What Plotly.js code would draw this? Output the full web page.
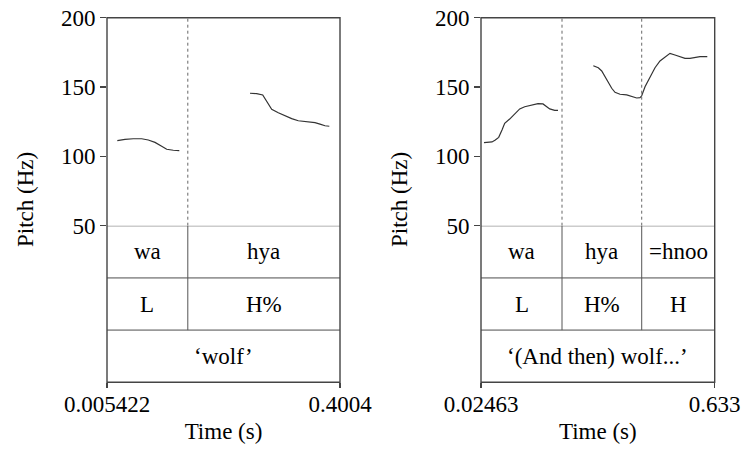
<!DOCTYPE html>
<html><head><meta charset="utf-8">
<script src="https://cdn.plot.ly/plotly-3.0.1.min.js"></script>
<style>html,body{margin:0;padding:0;background:#fff}#chart{width:744px;height:449px}</style>
</head><body><div id="chart"></div>
<script>
// ---- Left panel: 'wolf' ----
const leftTimeRange = [0.005422, 0.4004];
const leftSeg1Time  = [0.0229,0.0359,0.0500,0.0642,0.0754,0.0868,0.0981,0.1066,0.1178,0.1280];
const leftSeg1Pitch = [111.3,112.3,112.7,112.7,111.8,110.1,107.3,105.1,104.4,104.1];
const leftSeg2Time  = [0.2478,0.2592,0.2694,0.2772,0.2846,0.2958,0.3072,0.3185,0.3297,0.3440,0.3580,0.3665,0.3750,0.3823];
const leftSeg2Pitch = [145.5,145.2,144.3,139.0,133.9,131.5,129.1,127.2,125.7,125.0,124.3,123.3,122.1,121.7];
const leftBounds = [0.1424];
const leftSyll   = ['wa','hya'];
const leftTones  = ['L','H%'];
const leftGloss  = '\u2018wolf\u2019';

// ---- Right panel: '(And then) wolf...' ----
const rightTimeRange = [0.02463, 0.633];
const rightSeg1Time  = [0.0324,0.0429,0.0533,0.0619,0.0707,0.0793,0.0863,0.0993,0.1124,0.1254,0.1384,0.1556,0.1730,0.1860,0.1946,0.2035,0.2165,0.2251];
const rightSeg1Pitch = [109.9,110.1,110.4,111.8,113.7,119.0,123.8,126.9,130.3,134.2,135.8,137.0,138.0,137.8,136.3,134.2,133.2,133.2];
const rightSeg2Time  = [0.3170,0.3300,0.3389,0.3475,0.3561,0.3649,0.3735,0.3865,0.4039,0.4170,0.4300,0.4386,0.4430,0.4516,0.4646,0.4776,0.4906,0.5036,0.5166,0.5296,0.5427,0.5557,0.5687,0.5817,0.5947,0.6137];
const rightSeg2Pitch = [165.4,163.9,161.6,157.4,152.7,149.1,146.2,144.8,144.3,143.0,142.1,142.3,143.7,150.2,157.4,163.9,168.8,171.9,174.3,173.1,171.9,170.7,170.7,171.2,171.9,171.9];
const rightBounds = [0.2355, 0.4430];
const rightSyll   = ['wa','hya','=hnoo'];
const rightTones  = ['L','H%','H'];
const rightGloss  = '\u2018(And then) wolf...\u2019';

const pitchTicks = [50,100,150,200];

// ---- layout geometry ----
const W = 744, H = 449;
const FONT = '"Liberation Serif", "Times New Roman", serif';
const FS = 23;
const pitchDom = [1 - 225.7/H, 1 - 17.7/H];
const tierDom  = [1 - 382.3/H, 1 - 225.7/H];
const xDoms = [[107/W, 340/W], [481/W, 714.7/W]];

const panels = [
  {xa:'x',  ya:'y',  yt:'y3', range:leftTimeRange, segs:[[leftSeg1Time,leftSeg1Pitch],[leftSeg2Time,leftSeg2Pitch]],
   bounds:leftBounds, syll:leftSyll, tones:leftTones, gloss:leftGloss},
  {xa:'x2', ya:'y2', yt:'y4', range:rightTimeRange, segs:[[rightSeg1Time,rightSeg1Pitch],[rightSeg2Time,rightSeg2Pitch]],
   bounds:rightBounds, syll:rightSyll, tones:rightTones, gloss:rightGloss}
];

const traces = [];
const shapes = [];
const annotations = [];
const layout = {
  width: W, height: H,
  margin: {l:0, r:0, t:0, b:0},
  paper_bgcolor: '#fff', plot_bgcolor: 'rgba(0,0,0,0)',
  showlegend: false,
  font: {family: FONT, size: FS, color: '#000'}
};

panels.forEach((p, i) => {
  p.segs.forEach(s => traces.push({
    x: s[0], y: s[1], xaxis: p.xa, yaxis: p.ya, type: 'scatter', mode: 'lines',
    line: {color: '#333', width: 1.2}, hoverinfo: 'skip'
  }));
  const xk = i === 0 ? 'xaxis' : 'xaxis2';
  const yk = i === 0 ? 'yaxis' : 'yaxis2';
  const tk = i === 0 ? 'yaxis3' : 'yaxis4';
  const fmt = v => String(v);
  layout[xk] = {
    domain: xDoms[i], range: p.range, anchor: p.yt, fixedrange: true,
    tickmode: 'array', tickvals: p.range, ticktext: p.range.map(fmt),
    ticks: 'outside', ticklen: 5, tickwidth: 1.3, tickcolor: '#444',
    ticklabelstandoff: -4,
    showline: false, showgrid: false, zeroline: false, automargin: false,
    tickfont: {family: FONT, size: FS, color: '#000'},
    title: {text: 'Time (s)', font: {family: FONT, size: FS, color: '#000'}, standoff: 6}
  };
  layout[yk] = {
    domain: pitchDom, range: [50, 200], anchor: p.xa, fixedrange: true,
    tickmode: 'array', tickvals: pitchTicks,
    ticks: 'outside', ticklen: 6, tickwidth: 1.3, tickcolor: '#444',
    showline: false, showgrid: false, zeroline: false, automargin: false,
    tickfont: {family: FONT, size: FS, color: '#000'}
  };
  layout[tk] = {domain: tierDom, range: [0, 3], anchor: p.xa, visible: false, fixedrange: true};

  const dref = p.xa + ' domain';
  [3, 2, 1].forEach(yv => shapes.push({type:'line', xref:dref, yref:p.yt, x0:0, x1:1, y0:yv, y1:yv,
    line:{color:'#999', width:1.6}}));
  p.bounds.forEach(b => {
    shapes.push({type:'line', xref:p.xa, yref:p.ya, x0:b, x1:b, y0:50, y1:200,
      line:{color:'#666', width:1, dash:'dot'}});
    shapes.push({type:'line', xref:p.xa, yref:p.yt, x0:b, x1:b, y0:1, y1:3,
      line:{color:'#555', width:1}});
  });
  shapes.push({type:'rect', xref:dref, yref:'paper', x0:0, x1:1, y0:tierDom[0], y1:pitchDom[1],
    line:{color:'#444', width:1.4}, fillcolor:'rgba(0,0,0,0)'});

  const edges = [p.range[0], ...p.bounds, p.range[1]];
  p.syll.forEach((t, k) => annotations.push({xref:p.xa, yref:p.yt, x:(edges[k]+edges[k+1])/2, y:2.5,
    text:t, showarrow:false, font:{family:FONT, size:FS, color:'#000'}}));
  p.tones.forEach((t, k) => annotations.push({xref:p.xa, yref:p.yt, x:(edges[k]+edges[k+1])/2, y:1.5,
    text:t, showarrow:false, font:{family:FONT, size:FS, color:'#000'}}));
  annotations.push({xref:p.xa, yref:p.yt, x:(p.range[0]+p.range[1])/2, y:0.5,
    text:p.gloss, showarrow:false, font:{family:FONT, size:FS, color:'#000'}});

  const lx = i === 0 ? 25 : 399;
  annotations.push({xref:'paper', yref:'paper', x:lx/W, y:1 - 200/H, text:'Pitch (Hz)', textangle:-90,
    showarrow:false, xanchor:'center', yanchor:'middle', font:{family:FONT, size:FS, color:'#000'}});
});

layout.shapes = shapes;
layout.annotations = annotations;
Plotly.newPlot('chart', traces, layout, {staticPlot: true, displayModeBar: false});
</script>
</body></html>
